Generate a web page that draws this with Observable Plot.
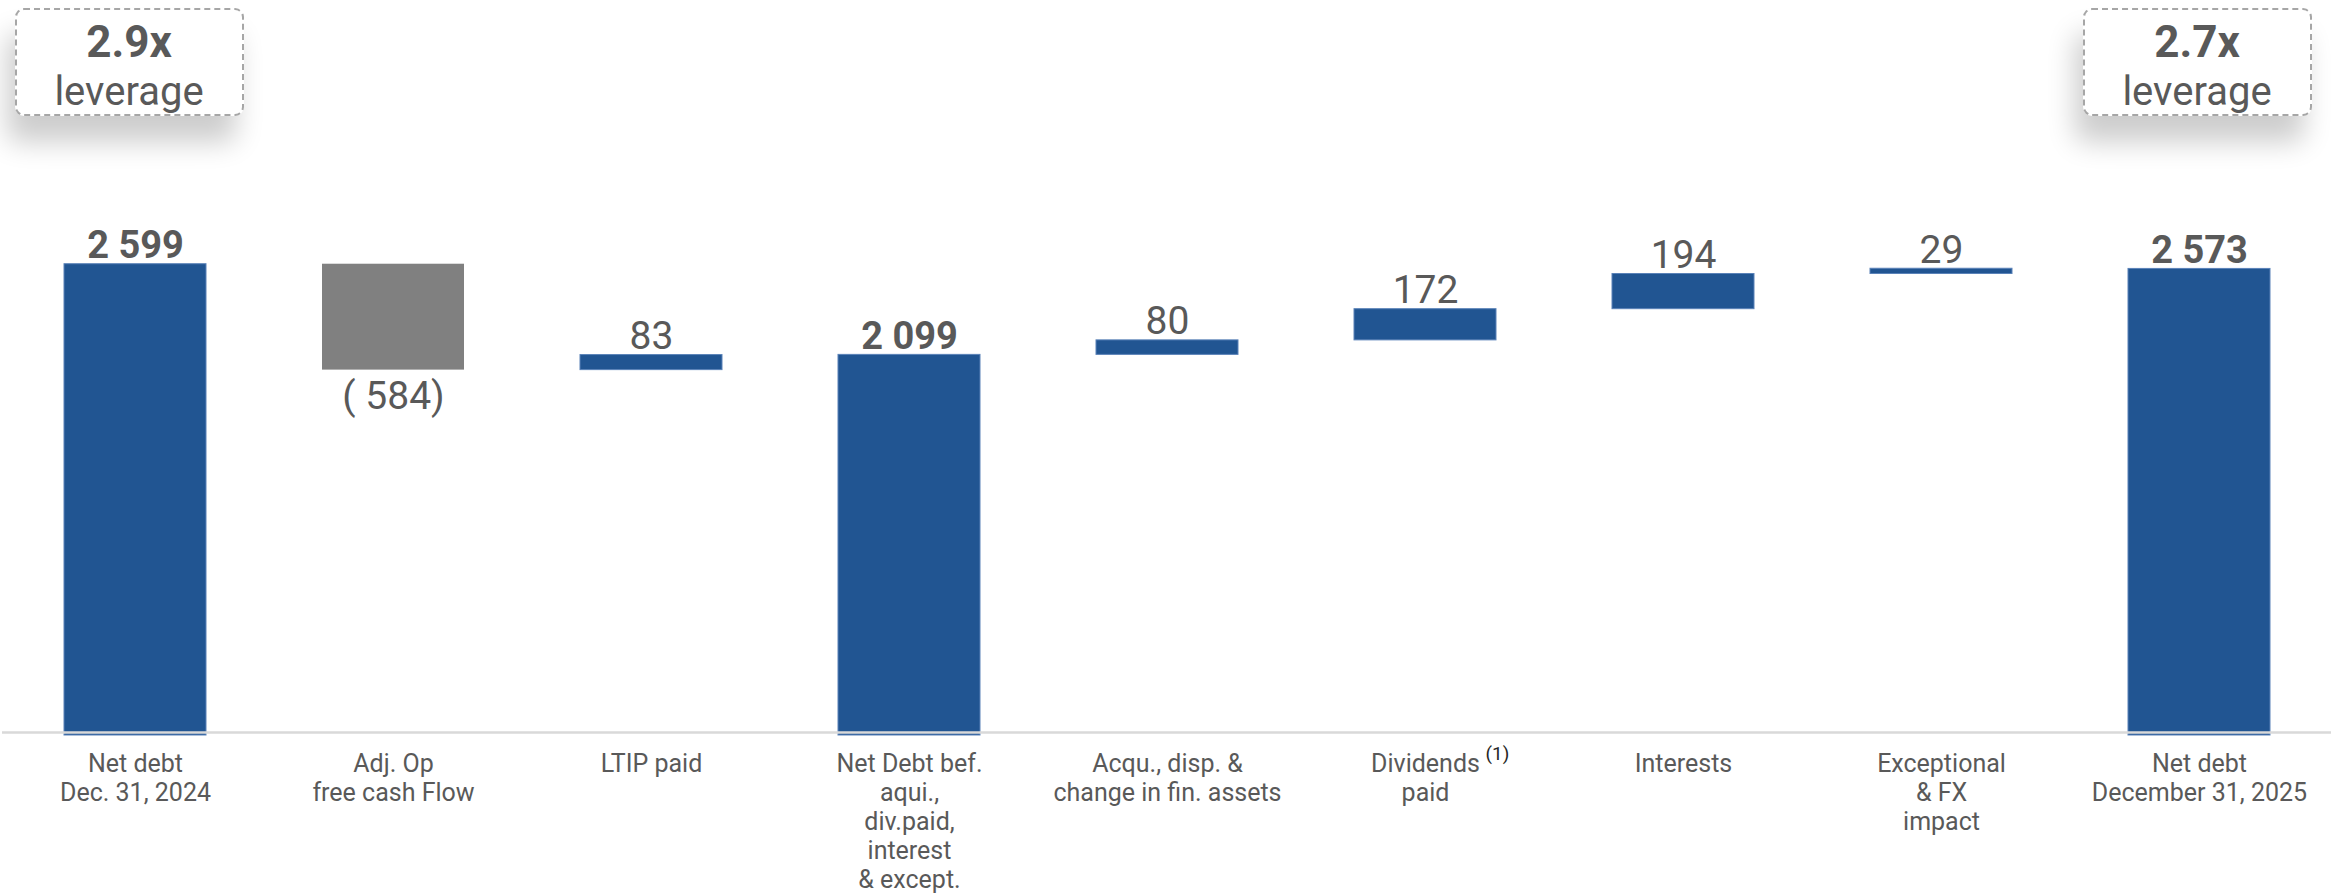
<!DOCTYPE html>
<html>
<head>
<meta charset="utf-8">
<script src="https://cdn.jsdelivr.net/npm/d3@7"></script>
<script src="https://cdn.jsdelivr.net/npm/@observablehq/plot@0.6"></script>
<style>
  html, body { margin: 0; padding: 0; background: #fff; }
  #wrap { position: relative; width: 2331px; height: 893px; overflow: hidden; font-family: Roboto, sans-serif; }
  .lev { position: absolute; top: 8px; width: 229px; height: 108px; box-sizing: border-box;
         border: 2px dashed #a6a6a6; border-radius: 9px; background: #fff;
         box-shadow: -8px 26px 28px rgba(0,0,0,0.2); color: #595959; text-align: center; }
  .lev .big { position: absolute; left: 0; right: 0; top: 6px; font-weight: 700; font-size: 44px; line-height: 52px; }
  .lev .small { position: absolute; left: 0; right: 0; top: 58px; font-size: 40px; line-height: 47px; }
</style>
</head>
<body>
<div id="wrap"></div>
<script>
const categories = ["Net debt\nDec. 31, 2024", "Adj. Op\nfree cash Flow", "LTIP paid",
  "Net Debt bef.\naqui.,\ndiv.paid,\ninterest\n& except.", "Acqu., disp. &\nchange in fin. assets",
  "Dividends\npaid", "Interests", "Exceptional\n& FX\nimpact", "Net debt\nDecember 31, 2025"];
const values = [2599, -584, 83, 2099, 80, 172, 194, 29, 2573];
const kinds = ["total", "delta", "delta", "total", "delta", "delta", "delta", "delta", "total"];
const footnotes = [{cat: "Dividends\npaid", note: "(1)"}];
const leverage = [{cat: "Net debt\nDec. 31, 2024", big: "2.9x", small: "leverage"},
                  {cat: "Net debt\nDecember 31, 2025", big: "2.7x", small: "leverage"}];

let run = 0;
const rows = categories.map((cat, i) => {
  const v = values[i], kind = kinds[i];
  let y1, y2;
  if (kind === "total") { y1 = 0; y2 = v; run = v; }
  else { y1 = run; y2 = run + v; run += v; }
  return {cat, v, kind, y1, y2, lo: Math.min(y1, y2), hi: Math.max(y1, y2)};
});

const fmt = d3.formatLocale({thousands: " ", grouping: [3], decimal: "."}).format(",d");
const label = d => d.v < 0 ? "( " + fmt(-d.v) + ")" : fmt(d.v);
const fillOf = d => d.v < 0 ? "#808080" : "#215592";
const FONT = "Roboto, sans-serif";

const plot = Plot.plot({
  width: 2331, height: 893,
  marginLeft: 2, marginRight: 0, marginTop: 191, marginBottom: 158,
  style: {fontFamily: FONT, background: "transparent"},
  x: {domain: categories, paddingInner: 0.45, paddingOuter: 0.225, axis: null},
  y: {domain: [0, 3000], axis: null},
  marks: [
    Plot.barY(rows, {x: "cat", y1: "y1", y2: "y2", fill: fillOf,
      stroke: d => d.v < 0 ? "none" : "#5a82b8", strokeWidth: 1}),
    Plot.ruleY([0], {stroke: "#d9d9d9", strokeWidth: 2.5, dy: -3}),
    Plot.text(rows.filter(d => d.kind === "total"), {x: "cat", y: "hi", text: label, dy: -6, lineAnchor: "bottom",
      fill: "#595959", fontSize: 38, fontWeight: 700}),
    Plot.text(rows.filter(d => d.kind === "delta" && d.v >= 0), {x: "cat", y: "hi", text: label, dy: -6, lineAnchor: "bottom",
      fill: "#595959", fontSize: 39}),
    Plot.text(rows.filter(d => d.v < 0), {x: "cat", y: "lo", text: label, dy: 11, lineAnchor: "top",
      fill: "#595959", fontSize: 39}),
    Plot.text(rows, {x: "cat", y: 0, text: "cat", dy: 16, lineAnchor: "top", lineHeight: 1.16,
      fill: "#595959", fontSize: 25}),
    Plot.text(footnotes, {x: "cat", y: 0, text: "note", dx: 60, dy: 11, lineAnchor: "top",
      textAnchor: "start", fill: "#262626", fontSize: 19})
  ]
});

const wrap = document.getElementById("wrap");
wrap.appendChild(plot);
const xs = plot.scale("x");
leverage.forEach((l, i) => {
  const cx = xs.apply(l.cat) + xs.bandwidth / 2 - (i === 0 ? 6 : 2);
  const div = document.createElement("div");
  div.className = "lev";
  div.style.left = (cx - 229 / 2) + "px";
  div.innerHTML = `<div class="big">${l.big}</div><div class="small">${l.small}</div>`;
  wrap.appendChild(div);
});
plot.style.position = "absolute";
plot.style.left = "0px";
plot.style.top = "0px";
</script>
</body>
</html>
